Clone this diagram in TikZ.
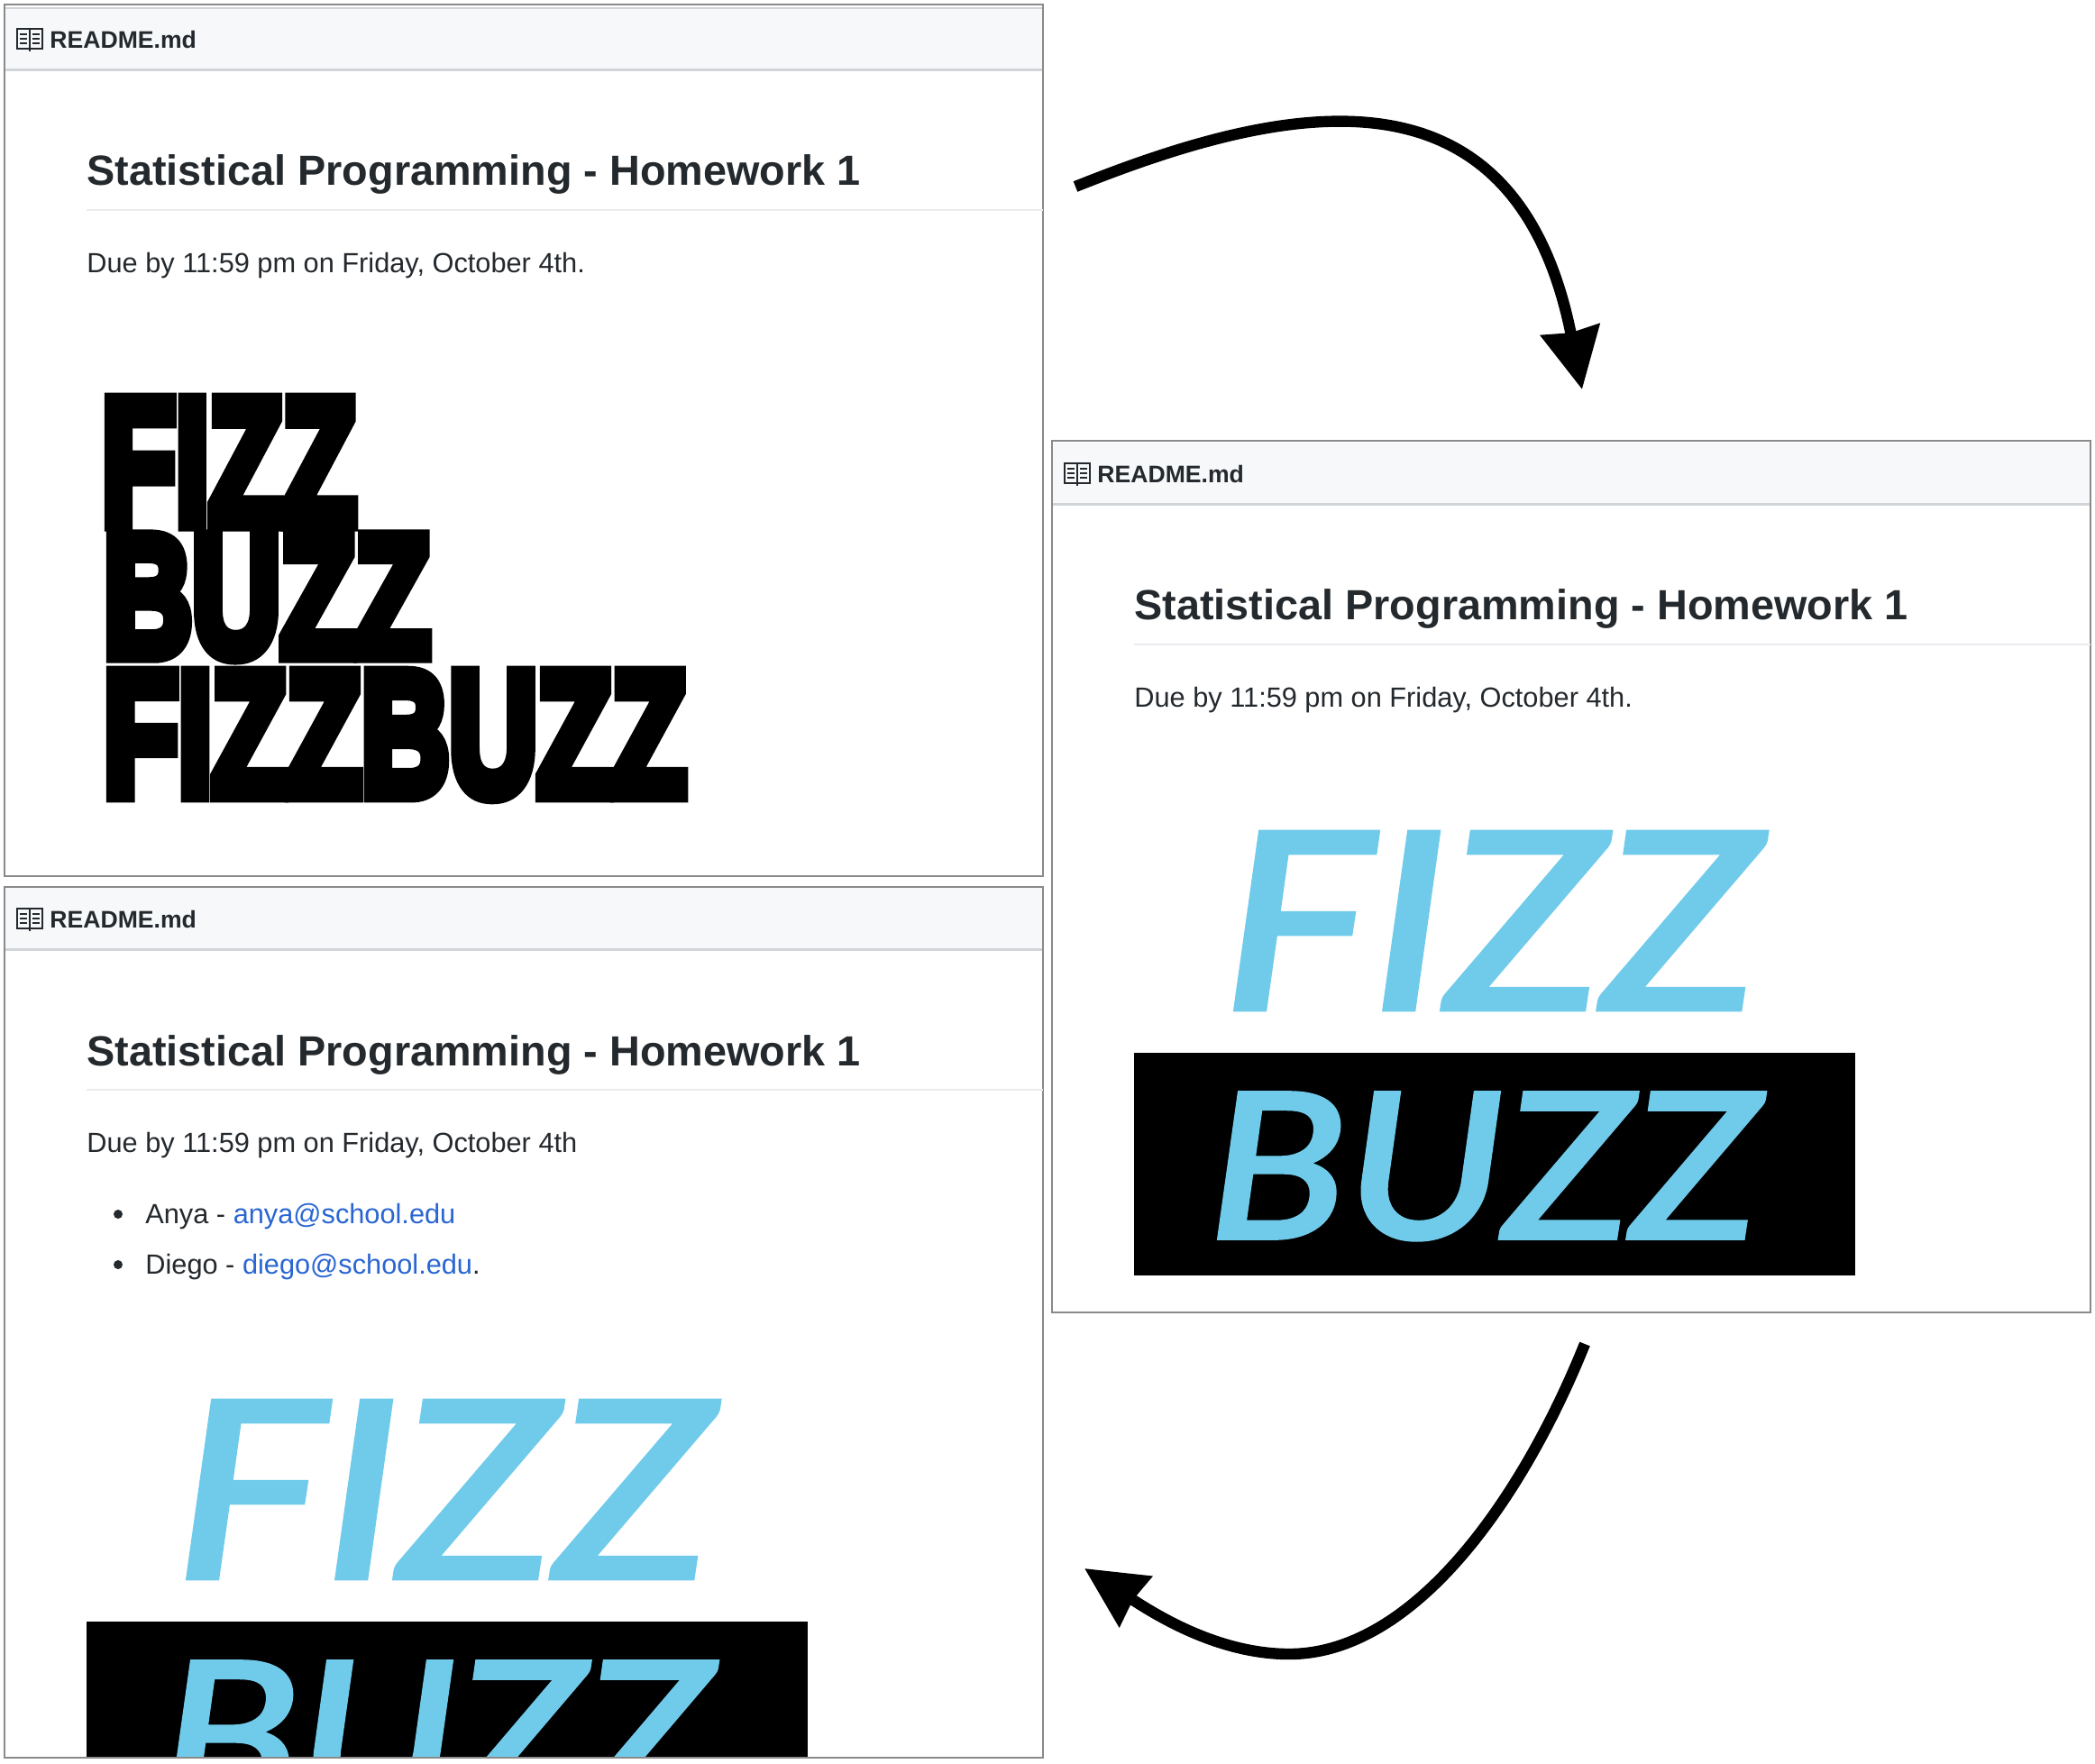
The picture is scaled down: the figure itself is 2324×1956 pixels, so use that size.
\documentclass[tikz,border=0pt]{standalone}
\usepackage{fontspec}
\setmainfont{Liberation Sans}
\newfontfamily\heavyfont[BoldFeatures={FakeBold=9}]{Liberation Sans}
\newfontfamily\logofont[ItalicFeatures={FakeBold=2.5}]{Lato}
\usepackage{xcolor}
\definecolor{ink}{HTML}{24292E}
\definecolor{frame}{HTML}{8A8A8A}
\definecolor{headbg}{HTML}{F6F8FA}
\definecolor{headline}{HTML}{D1D5DA}
\definecolor{rulegray}{HTML}{EAECEF}
\definecolor{linkblue}{HTML}{2A66D2}
\definecolor{logoblue}{HTML}{70CBEB}
\usetikzlibrary{arrows.meta,positioning}
\tikzset{
  >={Stealth[length=33.5pt,width=32.5pt,inset=1.5pt]},
  panel/.style={draw=frame,line width=1pt,fill=white,inner sep=0pt,outer sep=0pt,anchor=north west,minimum width=576pt,minimum height=484pt},
  head/.style={draw=none,fill=headbg,inner sep=0pt,outer sep=0pt,anchor=north west,minimum width=575pt,minimum height=34pt},
  file/.style={font=\fontsize{13.3}{16}\bfseries,text=ink,inner sep=0pt,anchor=base west},
  title/.style={font=\fontsize{23.4}{28}\bfseries,text=ink,inner sep=0pt,anchor=base west},
  body/.style={font=\fontsize{15.37}{18}\selectfont,text=ink,inner sep=0pt,anchor=base west},
  logo/.style={inner sep=0pt,outer sep=0pt,anchor=north west,text=logoblue},
  blk/.style={inner sep=0pt,outer sep=0pt,anchor=north west,text=black},
  bar/.style={fill=black,inner sep=0pt,outer sep=0pt,anchor=north west,minimum width=400pt},
  dot/.style={circle,fill=ink,inner sep=0pt,minimum size=5pt},
  arr/.style={->,draw=black,line width=6.2pt},
  book/.pic={
    \draw[ink,line width=0.9pt] (0,0) rectangle (14,22) (14,0) rectangle (28,22) (14,22) -- (14,25);
    \foreach \i in {6,11,16} {\draw[ink,line width=0.8pt] (3,\i) -- (11,\i) (17,\i) -- (25,\i);}
  },
}
\begin{document}
\begin{tikzpicture}[x=0.5pt,y=-0.5pt]
\useasboundingbox (0,0) rectangle (2324,1956);
\fill[white] (0,0) rectangle (2324,1956);
% first panel
\node[panel,minimum height=483.5pt] (p1) at (5,5) {};
\node[head] (h1) at (6,9) {};
\draw[headline,line width=1.5pt] (h1.south west) -- (h1.south east);
\draw[headline,line width=1pt] (h1.north west) -- (h1.north east);
\pic at (19,32) {book};
\node[file] (f1) at (55,53) {README.md};
\node[title] (t1) at (96,205) {Statistical Programming - Homework 1};
\draw[rulegray,line width=1pt] (96,233) -- (p1.east |- 96,233);
\node[body] (d1) at (96,302) {Due by 11:59 pm on Friday, October 4th.};
\node[blk] (w1) at (113,444.5) {\resizebox{141pt}{68pt}{\heavyfont\bfseries FIZZ}};
\node[blk] (w2) at (115,596) {\resizebox{181pt}{65.5pt}{\heavyfont\bfseries BUZZ}};
\node[blk] (w3) at (115,747.5) {\resizebox{323pt}{67pt}{\heavyfont\bfseries FIZZBUZZ}};
% second panel
\node[panel,minimum height=483.5pt] (p2) at (1167,489) {};
\node[head] (h2) at (1168,491) {};
\draw[headline,line width=1.5pt] (h2.south west) -- (h2.south east);
\pic at (1181,514) {book};
\node[file] (f2) at (1217,535) {README.md};
\node[title] (t2) at (1258,687) {Statistical Programming - Homework 1};
\draw[rulegray,line width=1pt] (1258,715) -- (p2.east |- 1258,715);
\node[body] (d2) at (1258,784) {Due by 11:59 pm on Friday, October 4th.};
\node[logo] (fz2) at (1357,924) {\resizebox{297pt}{97.5pt}{\logofont\itshape FIZZ}};
\node[bar,minimum height=123.5pt] (b2) at (1258,1168) {};
\node[logo] (bz2) at (1341,1213) {\resizebox{305pt}{80pt}{\logofont\itshape BUZZ}};
% third panel
\node[panel,minimum height=483pt] (p3) at (5,984) {};
\node[head] (h3) at (6,985) {};
\draw[headline,line width=1.5pt] (h3.south west) -- (h3.south east);
\pic at (19,1008) {book};
\node[file] (f3) at (55,1029) {README.md};
\node[title] (t3) at (96,1182) {Statistical Programming - Homework 1};
\draw[rulegray,line width=1pt] (96,1209) -- (p3.east |- 96,1209);
\node[body] (d3) at (96,1278) {Due by 11:59 pm on Friday, October 4th};
\node[dot] (n1) at (131,1347) {};
\node[body] (a1) at (161,1357) {Anya - \textcolor{linkblue}{anya@school.edu}};
\node[dot] (n2) at (131,1403) {};
\node[body] (a2) at (161,1413) {Diego - \textcolor{linkblue}{diego@school.edu}.};
\node[logo] (fz3) at (195,1555) {\resizebox{297pt}{97.5pt}{\logofont\itshape FIZZ}};
\begin{scope}
\clip (p3.north west) rectangle (p3.south east);
\node[bar,minimum height=100pt] (b3) at (96,1799) {};
\node[logo] (bz3) at (179,1844) {\resizebox{305pt}{80pt}{\logofont\itshape BUZZ}};
\end{scope}
\draw[frame,line width=1pt] (p3.south west) -- (p3.south east);
% arrows between the panels
\coordinate (s1) at (1193,207);
\coordinate (e1) at (1755,432);
\coordinate (s2) at (1758,1491);
\coordinate (m2) at (1430,1835);
\coordinate (e2) at (1203,1740);
\draw[arr] (s1) .. controls (1420,116) and (1680,57) .. (e1);
\draw[arr] (s2) .. controls (1690,1660) and (1570,1835) .. (m2) .. controls (1350,1835) and (1280,1790) .. (e2);
\end{tikzpicture}
\end{document}
